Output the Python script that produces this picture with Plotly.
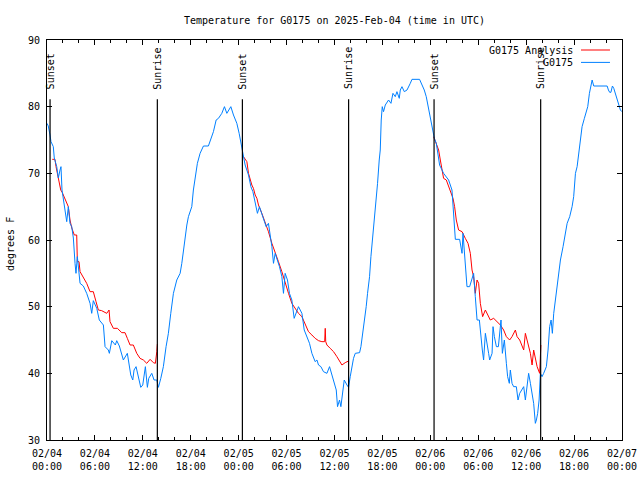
import datetime as dt
import plotly.graph_objects as go

BASE = dt.datetime(2025, 2, 4, 0, 0)

# --- G0175 observations (hours after 02/04 00:00 UTC, deg F) ---
obs_hours = [
    0.00, 0.16, 0.38, 0.50, 0.79, 0.91, 1.22, 1.42, 1.63, 1.75, 1.88, 2.04, 2.26, 2.47,
    2.67, 2.79, 2.88, 3.10, 3.30, 3.51, 3.63, 3.80, 4.05, 4.14, 4.55, 4.97, 5.39, 5.60,
    5.80, 6.23, 6.55, 7.06, 7.27, 7.68, 7.81, 8.11, 8.56, 8.73, 9.06, 9.56, 10.06, 10.49,
    10.74, 10.90, 11.15, 11.49, 11.74, 11.99, 12.32, 12.57, 12.74, 13.12, 13.41, 13.75,
    13.95, 14.25, 14.57, 14.91, 15.20, 15.50, 15.83, 16.25, 16.67, 16.88, 17.17, 17.51,
    17.71, 18.13, 18.33, 18.55, 18.83, 19.17, 19.59, 20.21, 20.51, 20.84, 21.18, 21.47,
    21.89, 22.22, 22.52, 23.02, 23.35, 23.77, 24.06, 24.31, 24.47, 24.81, 25.23, 25.53,
    25.78, 26.35, 26.60, 27.11, 27.44, 27.73, 27.94, 28.16, 28.36, 28.57, 29.11, 29.41,
    29.61, 29.82, 30.11, 30.36, 30.66, 30.95, 31.49, 31.92, 32.21, 32.54, 32.87, 33.17,
    33.58, 33.80, 34.00, 34.30, 34.62, 35.05, 35.38, 35.68, 35.96, 36.22, 36.38, 36.63,
    36.80, 37.01, 37.22, 37.56, 37.76, 37.97, 38.18, 38.38, 38.60, 39.14, 39.31, 39.56,
    39.72, 39.97, 40.14, 40.39, 40.56, 40.76, 40.98, 41.19, 41.39, 41.60, 41.73, 41.85,
    41.98, 42.14, 42.36, 42.77, 43.07, 43.32, 43.61, 43.82, 44.11, 44.24, 44.45, 44.74,
    45.08, 45.49, 45.70, 46.65, 46.95, 47.24, 47.49, 47.66, 47.91, 48.08, 48.33, 48.50,
    48.75, 48.91, 49.16, 49.66, 50.29, 50.71, 50.84, 51.00, 51.13, 51.67, 51.97, 52.09,
    52.38, 52.59, 52.92, 53.42, 53.63, 53.85, 54.14, 54.35, 54.51, 54.67, 54.89, 55.30,
    55.43, 55.73, 55.85, 56.02, 56.27, 56.52, 56.77, 56.85, 57.02, 57.27, 57.52, 57.68,
    57.89, 58.02, 58.23, 58.43, 58.77, 58.98, 59.19, 59.69, 59.90, 60.11, 60.31, 60.53,
    60.74, 60.94, 61.15, 61.28, 61.44, 61.62, 61.78, 61.99, 62.19, 62.53, 62.74, 62.94,
    63.12, 63.28, 63.45, 63.66, 63.87, 64.07, 64.29, 64.62, 64.91, 65.13, 65.45, 65.75,
    65.95, 66.17, 66.38, 66.58, 66.79, 67.00, 67.29, 67.54, 67.71, 67.92, 68.13, 68.26,
    68.46, 70.14, 70.30, 70.46, 70.61, 70.80, 70.97, 71.18, 71.39, 71.59, 71.80, 71.99,
]
obs_temps = [
    77.5, 77.1, 75.75, 74.75, 74.0, 72.3, 71.0, 69.3, 70.5, 71.0, 67.5, 66.0, 64.5, 62.75,
    65.0, 63.4, 62.5, 62.0, 60.3, 56.5, 55.0, 57.5, 55.0, 53.5, 53.1, 52.0, 50.5, 49.0,
    50.9, 49.75, 48.0, 47.25, 44.0, 43.5, 43.0, 44.9, 44.25, 44.9, 44.1, 42.0, 43.0, 39.75,
    39.0, 40.5, 41.0, 39.25, 37.9, 38.25, 41.0, 37.9, 39.25, 40.0, 39.0, 39.0,
    37.9, 39.25, 41.0, 44.0, 46.0, 49.0, 52.0, 54.0, 55.0, 56.5, 59.5, 62.25,
    63.5, 65.0, 67.5, 69.0, 71.5, 73.0, 74.1, 74.1, 75.0, 76.25, 78.0, 78.25,
    79.0, 80.0, 79.0, 80.0, 78.75, 77.5, 76.0, 74.5, 73.25, 71.25, 69.75, 68.0,
    67.25, 64.0, 65.0, 63.0, 62.0, 62.5, 61.0, 59.0, 56.5, 58.0, 56.0, 54.5,
    52.0, 55.0, 54.0, 52.0, 51.0, 48.25, 50.0, 49.0, 46.5, 45.5, 44.5, 43.0,
    41.75, 42.0, 41.25, 41.0, 40.25, 40.0, 41.0, 39.75, 38.75, 37.5, 35.0, 36.0,
    35.0, 37.5, 39.0, 38.25, 37.9, 39.5, 41.0, 42.25, 43.0, 43.1, 44.0, 46.0,
    48.0, 50.0, 52.0, 54.5, 57.5, 60.0, 63.0, 66.0, 68.5, 72.0, 73.5, 78.0,
    80.0, 79.25, 80.25, 81.0, 80.5, 82.0, 81.5, 82.25, 81.25, 82.5, 83.0, 82.25,
    82.5, 83.5, 84.1, 84.1, 83.25, 82.5, 81.5, 80.5, 79.0, 77.75, 76.5, 75.25,
    74.5, 73.0, 71.25, 70.0, 69.0, 67.5, 65.25, 63.0, 60.1, 60.1, 58.0, 61.0,
    56.5, 53.0, 53.0, 55.0, 51.5, 48.0, 48.0, 45.0, 43.5, 42.0, 46.0, 43.0,
    42.0, 43.0, 47.0, 45.5, 44.0, 44.0, 46.5, 48.0, 43.0, 45.0, 41.5, 39.5,
    38.5, 40.5, 38.5, 38.0, 38.0, 36.0, 37.0, 38.0, 36.0, 38.0, 40.0, 38.5,
    37.0, 35.5, 32.5, 33.0, 34.0, 36.0, 40.0, 39.5, 40.0, 41.0, 43.5, 47.0,
    48.0, 46.0, 49.0, 51.0, 53.0, 55.0, 57.0, 59.0, 61.0, 62.5, 63.5, 65.0,
    66.5, 70.0, 71.0, 73.0, 75.0, 77.0, 78.25, 79.25, 80.0, 82.0, 83.5, 84.0,
    83.1, 83.1, 82.5, 82.15, 82.15, 83.1, 82.75, 82.0, 81.25, 80.25, 79.5, 79.25,
]

# --- G0175 Analysis (night-time only; None separates nights) ---
ana_hours = [
    0.66, 1.00, 1.13, 1.29, 1.50, 1.72, 1.92, 2.26, 2.47, 2.67, 2.88, 3.10, 3.42, 3.72,
    3.80, 4.01, 4.14, 4.35, 4.55, 4.97, 5.39, 5.80, 6.14, 6.43, 6.85, 7.48, 7.77, 7.89,
    8.31, 8.81, 9.36, 9.77, 10.06, 10.40, 10.81, 11.24, 11.65, 12.07, 12.49, 12.91, 13.32,
    13.57, 13.75, 13.82, None,
    24.60, 25.03, 25.23, 25.44, 25.65, 25.85, 26.07, 26.28, 26.48, 26.90, 27.32, 27.73,
    28.16, 28.57, 28.98, 29.41, 29.82, 30.24, 30.66, 31.08, 31.49, 31.92, 32.33, 32.74,
    33.17, 33.58, 34.00, 34.42, 34.77, 34.84, 34.90, 35.05, 35.46, 35.88, 36.30, 36.72,
    36.93, 37.34, 37.76, None,
    48.41, 48.75, 49.04, 49.25, 49.66, 50.00, 50.50, 50.84, 51.04, 51.25, 51.54, 51.97,
    52.38, 52.72, 53.01, 53.22, 53.42, 53.63, 53.85, 54.05, 54.26, 54.55, 54.89, 55.51,
    55.93, 56.35, 56.77, 57.18, 57.52, 57.93, 58.23, 58.65, 58.86, 59.19, 59.49, 59.69,
    59.90, 60.31, 60.53, 60.74, 60.94, 61.37, 61.57, 61.69, 61.84,
]
ana_temps = [
    72.1, 72.1, 71.0, 70.0, 68.75, 67.5, 67.1, 66.0, 65.5, 65.0, 63.0, 61.8, 60.75, 60.75,
    56.75, 56.75, 55.25, 54.75, 54.25, 53.5, 52.25, 52.25, 50.75, 49.5, 49.4, 49.0, 49.5, 47.75,
    46.75, 46.75, 46.1, 46.1, 45.25, 44.25, 44.25, 43.0, 42.25, 42.0, 41.5, 42.1, 41.6,
    41.5, 43.25, 44.4, None,
    72.5, 71.75, 70.0, 69.0, 68.25, 67.75, 66.75, 66.25, 65.25, 64.0, 62.75, 61.25,
    59.5, 58.25, 56.75, 55.25, 53.5, 52.0, 50.5, 49.75, 49.0, 48.5, 47.25, 46.25,
    45.75, 45.25, 44.9, 44.75, 44.75, 46.75, 44.75, 44.25, 43.75, 43.25, 42.5, 41.75,
    41.25, 41.6, 41.85, None,
    75.5, 74.5, 73.5, 72.0, 69.25, 69.0, 67.5, 66.25, 65.0, 63.0, 61.5, 61.25,
    60.25, 59.5, 58.0, 55.5, 54.5, 52.0, 54.0, 53.5, 50.5, 48.5, 49.5, 48.0,
    48.25, 47.75, 47.25, 46.5, 45.5, 45.0, 45.5, 46.5, 45.5, 45.0, 44.0, 43.5,
    46.0, 44.0, 43.0, 41.25, 43.5, 41.0, 40.5, 40.0, 44.25,
]

# --- Sun events (UTC) ---
sun_labels = ["Sunset", "Sunrise", "Sunset", "Sunrise", "Sunset", "Sunrise"]
sun_times = ["2025-02-04 00:23", "2025-02-04 13:49", "2025-02-05 00:28",
             "2025-02-05 13:46", "2025-02-06 00:28", "2025-02-06 13:49"]
sun_line_top = 81.1
sun_label_y = 82.3

series_names = ["G0175 Analysis", "G0175"]
series_colors = ["#ff0000", "#0080ff"]


def to_dt(hours):
    return [None if h is None else BASE + dt.timedelta(hours=h) for h in hours]


FONT = "DejaVu Sans Mono"

fig = go.Figure()
fig.add_trace(go.Scatter(x=to_dt(ana_hours), y=ana_temps, mode="lines",
                         line=dict(color=series_colors[0], width=1),
                         name=series_names[0], connectgaps=False, showlegend=False))
fig.add_trace(go.Scatter(x=to_dt(obs_hours), y=obs_temps, mode="lines",
                         line=dict(color=series_colors[1], width=1),
                         name=series_names[1], showlegend=False))

shapes = []
annotations = []
for lab, t in zip(sun_labels, sun_times):
    shapes.append(dict(type="line", xref="x", yref="y", x0=t, x1=t, y0=30, y1=sun_line_top,
                       line=dict(color="black", width=1.2), layer="above"))
    annotations.append(dict(x=t, y=sun_label_y, xref="x", yref="y", text=lab,
                            textangle=-90, showarrow=False, xanchor="center",
                            yanchor="bottom", font=dict(family=FONT, size=10, color="black")))

# custom gnuplot-style key (text on the left, sample line on the right)
key_rows = [0.975, 0.944]
for name, col, yy in zip(series_names, series_colors, key_rows):
    annotations.append(dict(x=0.9185, y=yy, xref="paper", yref="paper", text=name,
                            showarrow=False, xanchor="right", yanchor="middle",
                            font=dict(family=FONT, size=10, color="black")))
    shapes.append(dict(type="line", xref="paper", yref="paper", x0=0.9287, x1=0.9791,
                       y0=yy, y1=yy, line=dict(color=col, width=1)))

annotations.append(dict(x=-0.0643, y=0.49, xref="paper", yref="paper", text="degrees F",
                        textangle=-90, showarrow=False, xanchor="center", yanchor="middle",
                        font=dict(family=FONT, size=10, color="black")))

fig.update_layout(
    width=640, height=480,
    margin=dict(l=47, r=18, t=40, b=40, autoexpand=False),
    paper_bgcolor="white", plot_bgcolor="white",
    font=dict(family=FONT, size=10, color="black"),
    title=dict(text="Temperature for G0175 on 2025-Feb-04 (time in UTC)",
               x=0.5, xref="paper", xanchor="center", y=1 - 20 / 480, yref="container",
               yanchor="middle", font=dict(family=FONT, size=10, color="black")),
    shapes=shapes, annotations=annotations, showlegend=False,
)
fig.update_xaxes(
    range=["2025-02-04 00:00", "2025-02-07 00:00"], automargin=False,
    tick0="2025-02-04 00:00", dtick=6 * 3600 * 1000, tickformat="%m/%d<br>%H:%M",
    ticks="inside", ticklen=5, tickcolor="black", showline=True, linecolor="black",
    linewidth=1, mirror="ticks", showgrid=False, zeroline=False, ticklabelstandoff=4,
    minor=dict(dtick=2 * 3600 * 1000, ticks="inside", ticklen=3, tickcolor="black",
               showgrid=False),
    tickfont=dict(family=FONT, size=10, color="black"),
)
fig.update_yaxes(
    range=[30, 90], dtick=10, ticks="inside", ticklen=5, tickcolor="black",
    showline=True, linecolor="black", linewidth=1, mirror="ticks", showgrid=False,
    zeroline=False, ticklabelstandoff=4, automargin=False,
    tickfont=dict(family=FONT, size=10, color="black"),
)

fig.write_html("out.html", config={"displayModeBar": False})
